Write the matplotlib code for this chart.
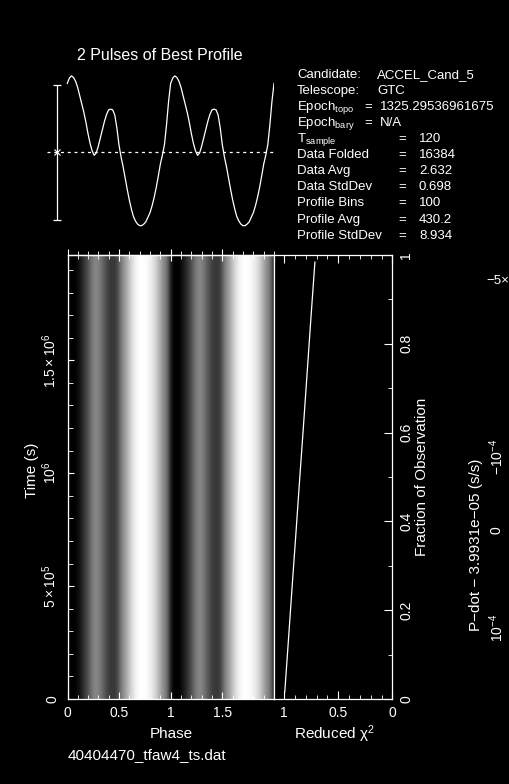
import numpy as np
import matplotlib
matplotlib.use('Agg')
import matplotlib.pyplot as plt
from matplotlib.ticker import MultipleLocator

plt.rcParams['font.family'] = ['Liberation Sans', 'DejaVu Sans']
plt.rcParams['mathtext.fontset'] = 'custom'
plt.rcParams['mathtext.rm'] = 'Liberation Sans'
plt.rcParams['mathtext.it'] = 'Liberation Sans:italic'
plt.rcParams['mathtext.bf'] = 'Liberation Sans:bold'

# one pulse of the folded profile at phase 0, 0.02, ... 0.98
prof_vals = [439.3, 440.0, 440.3, 440.1, 439.6, 438.8, 437.7, 436.6, 435.5, 434.2,
             432.7, 431.4, 430.4, 429.8, 430.1, 431.0, 432.1, 433.2, 434.3, 435.2,
             435.8, 435.9, 435.8, 435.1, 433.4, 431.2, 429.6, 428.3, 426.8, 425.3,
             423.9, 422.7, 421.7, 421.1, 420.7, 420.5, 420.5, 420.7, 421.0, 421.6,
             422.2, 423.1, 424.2, 425.5, 427.0, 428.6, 429.8, 431.2, 433.8, 436.9]
prof_avg = 430.2
prof_std = 8.934
n_parts = 32
t_total = 16384 * 120.0   # seconds

# reduced chi^2 against fraction of observation
chi_frac = [0.016, 0.13, 0.25, 0.37, 0.49, 0.61, 0.73, 0.85, 0.984]
chi_vals = [0.994, 0.961, 0.927, 0.892, 0.858, 0.823, 0.789, 0.755, 0.716]

# text block: label, "=" , value
info_rows = [
    ('Candidate:', '', 'ACCEL_Cand_5'),
    ('Telescope:', '', 'GTC'),
    (r'Epoch$_{\mathrm{topo}}$', '=', '1325.29536961675'),
    (r'Epoch$_{\mathrm{bary}}$', '=', 'N/A'),
    (r'T$_{\mathrm{sample}}$', '=', '120'),
    ('Data Folded', '=', '16384'),
    ('Data Avg', '=', '2.632'),
    ('Data StdDev', '=', '0.698'),
    ('Profile Bins', '=', '100'),
    ('Profile Avg', '=', '430.2'),
    ('Profile StdDev', '=', '8.934'),
]

W, H = 510, 784
FG = 'white'


def box(x0, y0, x1, y1):
    # pixel box (top-left origin) -> figure fraction rect
    return [x0 / W, 1 - y1 / H, (x1 - x0) / W, (y1 - y0) / H]


def ftext(x, y, s, **kw):
    kw.setdefault('color', FG)
    return fig.text(x / W, 1 - y / H, s, **kw)


fig = plt.figure(figsize=(W / 100, H / 100), dpi=100, facecolor='black')

# ---- profile (2 pulses) ----
ax_prof = fig.add_axes(box(46.6, 60, 274, 240))
ax_prof.set_facecolor('black')
ph = np.arange(len(prof_vals)) / len(prof_vals)
xs = np.concatenate([ph, ph + 1, [2.0]])
ys = np.concatenate([prof_vals, prof_vals, [prof_vals[0]]])
ax_prof.plot(xs, ys, color=FG, lw=0.9)
ax_prof.axhline(prof_avg, color=FG, lw=0.9, dashes=(2.4, 3.0))
ax_prof.errorbar([-0.1], [prof_avg], yerr=[prof_std], color=FG, lw=0.9,
                 capsize=3, capthick=0.9)
ax_prof.plot([-0.1], [prof_avg], marker='x', ms=4, mew=0.8, color=FG)
ax_prof.set_xlim(-0.2, 2.0)
ax_prof.set_ylim(418.6, 442.4)
ax_prof.axis('off')
ftext(160, 56, '2 Pulses of Best Profile', ha='center', va='center', fontsize=11.5)

# ---- info block ----
y0 = 77.7
for i, (lab, eq, val) in enumerate(info_rows):
    y = y0 + i * 16.1
    ftext(297, y, lab, va='baseline', fontsize=9.5)
    if eq == '':
        ftext(377, y, val, va='baseline', fontsize=9.5)
    elif lab.startswith('Epoch'):
        ftext(364, y, '=', va='baseline', fontsize=9.5)
        ftext(380, y, val, va='baseline', fontsize=9.5)
    else:
        ftext(398, y, '=', va='baseline', fontsize=9.5)
        ftext(419, y, val, va='baseline', fontsize=9.5)

# ---- time vs phase greyscale ----
ax_img = fig.add_axes(box(67.5, 255, 274, 699))
img = np.tile(np.concatenate([prof_vals, prof_vals]), (n_parts, 1))
ax_img.imshow(img, cmap='gray_r', aspect='auto', origin='lower',
              extent=[0, 2, 0, t_total], interpolation='bilinear',
              vmin=min(prof_vals), vmax=max(prof_vals))
ax_img.set_xlim(0, 2)
ax_img.set_ylim(0, t_total)
ax_img.set_xticks([0, 0.5, 1, 1.5], ['0', '0.5', '1', '1.5'])
ax_img.xaxis.set_minor_locator(MultipleLocator(0.1))
ax_img.set_yticks([0, 5e5, 1e6, 1.5e6],
                  ['0', r'$5\times10^{5}$', r'$10^{6}$', r'$1.5\times10^{6}$'])
ax_img.yaxis.set_minor_locator(MultipleLocator(1e5))
ax_img.tick_params(which='both', direction='in', colors=FG, labelsize=10,
                   top=False, right=False)
ax_img.tick_params(axis='x', which='major', length=5, pad=5)
ax_img.tick_params(axis='x', which='minor', length=3)
ax_img.tick_params(axis='y', which='major', length=4.5, pad=6)
ax_img.tick_params(axis='y', which='minor', length=3.4)
plt.setp(ax_img.get_yticklabels(), rotation=90, va='center')
for sp in ax_img.spines.values():
    sp.set_color(FG)
    sp.set_linewidth(0.9)

top = ax_img.secondary_xaxis('top')
top.set_xticks([0, 0.5, 1, 1.5], ['', '', '', ''])
top.xaxis.set_minor_locator(MultipleLocator(0.1))
top.tick_params(which='both', direction='inout', colors=FG)
top.tick_params(which='major', length=9)
top.tick_params(which='minor', length=5.5)
top.spines['top'].set_color(FG)
top.spines['top'].set_linewidth(0.9)

# ---- reduced chi^2 panel ----
ax_chi = fig.add_axes(box(274, 255, 392.5, 699))
ax_chi.set_facecolor('black')
ax_chi.plot(chi_vals, chi_frac, color=FG, lw=0.9)
ax_chi.set_xlim(1.1 * max(chi_vals), 0)
ax_chi.set_ylim(0, 1)
ax_chi.set_xticks([1, 0.5, 0], ['1', '0.5', '0'])
ax_chi.xaxis.set_minor_locator(MultipleLocator(0.1))
ax_chi.yaxis.tick_right()
ax_chi.set_yticks([0, 0.2, 0.4, 0.6, 0.8, 1], ['0', '0.2', '0.4', '0.6', '0.8', '1'])
ax_chi.yaxis.set_minor_locator(MultipleLocator(0.1))
ax_chi.tick_params(which='both', direction='in', colors=FG, labelsize=10,
                   top=True, bottom=True, left=False, right=True)
ax_chi.tick_params(axis='x', which='major', length=5.5, pad=5)
ax_chi.tick_params(axis='x', which='minor', length=3)
ax_chi.tick_params(axis='y', which='major', length=5.8, pad=5)
ax_chi.tick_params(axis='y', which='minor', length=3.1)
plt.setp(ax_chi.get_yticklabels(), rotation=90, va='center')
for sp in ax_chi.spines.values():
    sp.set_color(FG)
    sp.set_linewidth(0.9)

# ---- axis labels and other text ----
ftext(171, 734, 'Phase', ha='center', va='center', fontsize=11)
ftext(334, 734, 'Reduced χ$^{2}$', ha='center', va='center', fontsize=11)
ftext(68, 755, '40404470_tfaw4_ts.dat', ha='left', va='center', fontsize=11)
ftext(32, 470, 'Time (s)', ha='center', va='center', rotation=90, fontsize=11)
ftext(422, 477, 'Fraction of Observation', ha='center', va='center',
      rotation=90, fontsize=11)

# pieces of the neighbouring P-dot panel that fall inside the frame
ftext(476, 545, 'P\u2212dot \u2212 3.9931e\u221205 (s/s)', ha='center', va='center',
      rotation=90, fontsize=11)
ftext(497, 628, r'$10^{-4}$', ha='center', va='center', rotation=90, fontsize=10)
ftext(497, 530, '0', ha='center', va='center', rotation=90, fontsize=10)
ftext(497, 457, r'$-10^{-4}$', ha='center', va='center', rotation=90, fontsize=10)
ftext(486, 281, '\u22125\u00d7', ha='left', va='center', fontsize=9.5)

fig.savefig('out.png', dpi=100, facecolor='black')
